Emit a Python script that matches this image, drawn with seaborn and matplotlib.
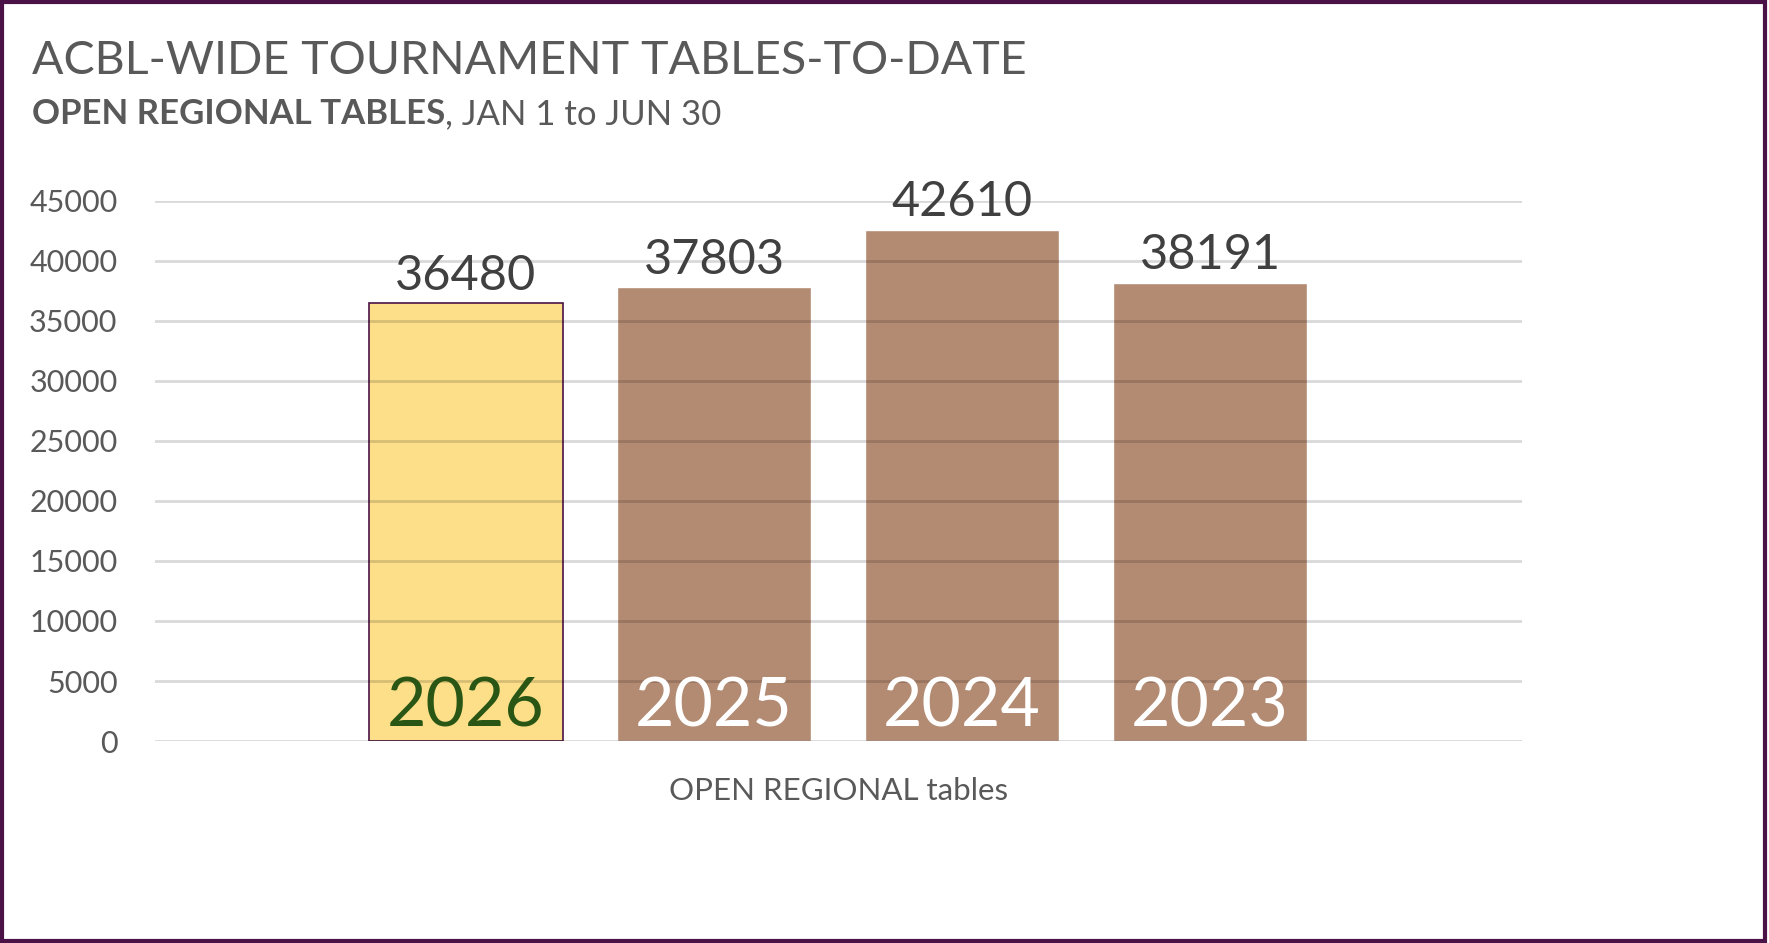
import seaborn as sns
import matplotlib.pyplot as plt
from matplotlib.patches import Rectangle
import pandas as pd

# data
years = ["2026", "2025", "2024", "2023"]
tables = [36480, 37803, 42610, 38191]
bar_colors = ["#FCDF88", "#B38A72", "#B38A72", "#B38A72"]
year_label_colors = ["#2A5615", "white", "white", "white"]
y_ticks = list(range(0, 45001, 5000))

df = pd.DataFrame({"Year": years, "Tables": tables})

sns.set_theme(style="white")
plt.rcParams["font.family"] = ["Lato", "DejaVu Sans"]

fig = plt.figure(figsize=(17.69, 9.43), dpi=100)
ax = fig.add_axes([0.0876, 0.2142, 0.7728, 0.5727])

sns.barplot(data=df, x="Year", y="Tables", hue="Year", palette=bar_colors,
            order=years, hue_order=years, width=0.78, legend=False,
            saturation=1, ax=ax)

# the current year gets a thin purple outline
ax.patches[0].set_edgecolor("#4A1247")
ax.patches[0].set_linewidth(1.2)

ax.set_ylim(0, 45000)
ax.set_xlim(-1.254, 4.258)
ax.set_yticks(y_ticks)
ax.set_yticklabels([str(t) for t in y_ticks], fontsize=22, color="#595959")
ax.tick_params(axis="y", length=0, pad=27)
ax.set_xticks([])
ax.set_ylabel("")
ax.set_xlabel("OPEN REGIONAL tables", fontsize=22.5, color="#595959", labelpad=26)
ax.yaxis.grid(True, color="black", alpha=0.15, linewidth=2)
ax.set_axisbelow(False)
for s in ax.spines.values():
    s.set_visible(False)

for i, (yr, val) in enumerate(zip(years, tables)):
    ax.annotate(str(val), (i, val), xytext=(0, 4), textcoords="offset points",
                ha="center", va="bottom", fontsize=35, color="#404040")
    ax.annotate(yr, (i, 0), xytext=(0, 2), textcoords="offset points",
                ha="center", va="bottom", fontsize=49,
                color=year_label_colors[i], zorder=4)

fig.text(0.018, 0.921, "ACBL-WIDE TOURNAMENT TABLES-TO-DATE",
         fontsize=33.5, color="#595959", va="baseline")
sub_bold = fig.text(0.018, 0.868, "OPEN REGIONAL TABLES", fontsize=25,
                    fontweight="bold", color="#595959", va="baseline")
fig.canvas.draw()
bb = sub_bold.get_window_extent()
fig.text(bb.x1 / fig.bbox.width, 0.868, ", JAN 1 to JUN 30", fontsize=25,
         color="#595959", va="baseline")

fig.patches.append(Rectangle((0.001, 0.002), 0.997, 0.996, transform=fig.transFigure,
                             fill=False, edgecolor="#4A1247", linewidth=3))

fig.savefig("out.png", dpi=100)
